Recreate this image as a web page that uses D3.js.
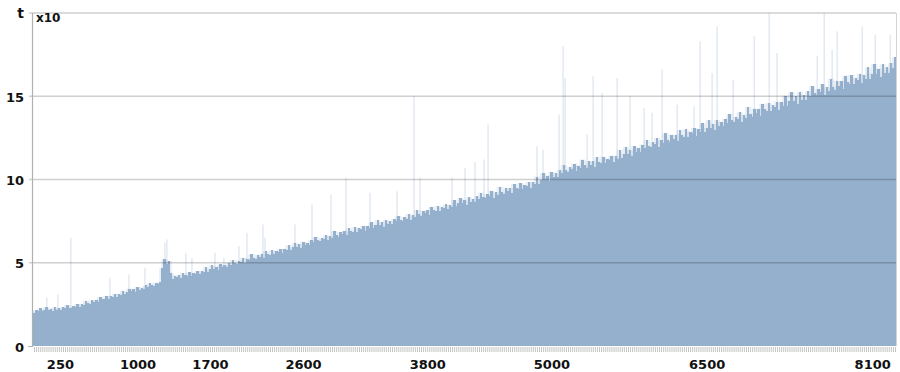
<!DOCTYPE html>
<html><head><meta charset="utf-8">
<script src="https://cdn.jsdelivr.net/npm/d3@7/dist/d3.min.js"></script>
<style>body{margin:0;background:#fff}svg{display:block}</style>
</head><body>
<svg id="chart" width="900" height="372"></svg>
<script>
// Categories: x positions of the bins (step 20)
const categories = d3.range(0, 8321, 20);
// Bin values (in units of x10)
const values = [
2.0,2.14,2.08,2.26,2.08,2.16,2.33,2.16,2.25,2.11,2.33,2.19,2.28,2.19,2.35,2.27,2.45,2.31,2.28,2.39,
2.34,2.53,2.32,2.51,2.45,2.73,2.58,2.53,2.74,2.66,2.78,2.64,2.94,2.83,2.80,3.02,2.84,3.00,2.97,3.13,
2.95,3.13,3.08,3.32,3.12,3.24,3.45,3.28,3.40,3.26,3.53,3.38,3.51,3.42,3.64,3.55,3.79,3.65,3.62,3.78,
3.7,3.85,4.7,5.2,4.95,5.1,4.4,4.03,4.23,4.13,4.24,4.08,4.38,4.25,4.21,4.42,4.23,4.37,4.34,4.48,
4.30,4.51,4.43,4.72,4.47,4.60,4.84,4.63,4.77,4.59,4.90,4.72,4.86,4.76,5.00,4.89,5.16,4.98,4.95,5.12,
5.07,5.30,5.01,5.25,5.16,5.51,5.30,5.21,5.48,5.36,5.51,5.30,5.69,5.52,5.48,5.75,5.50,5.69,5.64,5.83,
5.60,5.83,5.75,6.06,5.78,5.93,6.20,5.96,6.11,5.91,6.26,6.05,6.21,6.08,6.36,6.23,6.54,6.34,6.29,6.49,
6.42,6.67,6.35,6.61,6.50,6.90,6.66,6.56,6.86,6.72,6.88,6.64,7.08,6.89,6.83,7.13,6.85,7.07,7.01,7.22,
6.93,7.18,7.07,7.42,7.09,7.24,7.54,7.26,7.42,7.17,7.56,7.32,7.49,7.33,7.63,7.48,7.82,7.57,7.51,7.72,
7.65,7.93,7.57,7.85,7.74,8.17,7.90,7.79,8.12,7.96,8.14,7.87,8.36,8.14,8.08,8.41,8.09,8.33,8.26,8.50,
8.20,8.48,8.36,8.75,8.38,8.56,8.89,8.57,8.76,8.49,8.92,8.65,8.83,8.67,9.00,8.83,9.21,8.94,8.88,9.11,
9.02,9.32,8.91,9.23,9.09,9.56,9.26,9.13,9.50,9.31,9.50,9.20,9.73,9.49,9.41,9.77,9.42,9.67,9.60,9.85,
9.50,9.85,9.71,10.18,9.75,9.98,10.38,10.01,10.24,9.93,10.45,10.14,10.37,10.18,10.58,10.39,10.86,10.55,10.47,10.76,
10.63,10.96,10.51,10.84,10.69,11.20,10.86,10.71,11.10,10.89,11.10,10.77,11.34,11.07,10.98,11.37,10.98,11.25,11.15,11.42,
11.05,11.42,11.26,11.77,11.29,11.52,11.95,11.54,11.78,11.43,11.99,11.64,11.88,11.67,12.10,11.88,12.37,12.02,11.94,12.24,
12.11,12.50,11.97,12.36,12.19,12.78,12.40,12.23,12.68,12.44,12.69,12.31,12.97,12.66,12.56,13.01,12.56,12.88,12.77,13.09,
12.63,13.02,12.85,13.37,12.85,13.10,13.56,13.11,13.35,12.97,13.57,13.19,13.44,13.19,13.65,13.41,13.94,13.56,13.45,13.77,
13.63,14.04,13.48,13.90,13.71,14.35,13.94,13.76,14.25,13.99,14.25,13.83,14.55,14.21,14.10,14.59,14.11,14.45,14.34,14.68,
14.20,14.64,14.44,15.04,14.44,14.72,15.24,14.72,15.00,14.56,15.24,14.79,15.07,14.79,15.31,15.03,15.63,15.19,15.07,15.43,
15.26,15.72,15.08,15.55,15.33,16.05,15.58,15.37,15.92,15.62,15.91,15.43,16.24,15.85,15.72,16.27,15.72,16.10,15.97,16.35,
15.80,16.29,16.06,16.73,16.05,16.36,16.94,16.35,16.66,16.16,16.92,16.42,16.73,16.42,17.00,16.68,17.35
];
// Isolated tall thin bars: [category, value]
const spikes = [
[124,2.9],[231,3.1],[356,6.5],[733,4.1],[917,4.3],[1072,4.7],[1265,6.2],[1284,6.4],[1468,5.6],[1526,5.3],
[1748,5.6],[1835,5.3],[1980,6.0],[2058,6.8],[2212,7.3],[2232,6.5],[2522,7.3],[2686,8.5],[2870,9.1],[3015,10.1],
[3247,9.2],[3508,9.3],[3672,15.0],[3730,10.1],[4040,10.1],[4165,10.7],[4262,11.05],[4349,11.2],[4388,13.3],
[4861,12.0],[4919,11.8],[5074,13.9],[5113,18.0],[5132,16.1],[5345,12.7],[5403,16.2],[5490,15.2],[5635,16.1],
[5760,15.0],[5896,14.3],[5973,14.0],[6070,16.6],[6215,14.5],[6379,14.4],[6437,18.3],[6553,16.4],[6601,19.2],
[6756,16.0],[6960,18.6],[7104,20.0],[7180,17.6],[7568,17.4],[7636,20.0],[7713,17.8],[7761,18.9],[8003,19.2],
[8129,18.7],[8274,18.7]
];
const xTickLabels = [250,1000,1700,2600,3800,5000,6500,8100];
const yTicks = [0,5,10,15];
const yMax = 20;

const svg = d3.select("#chart");
const L = 33, R = 896, T = 13, B = 346;
const step = 20;
const x = d3.scaleLinear().domain([-10, 8330]).range([L, R]);
const y = d3.scaleLinear().domain([0, yMax]).range([B, T]);
const font = "'DejaVu Sans', Verdana, sans-serif";

svg.append("clipPath").attr("id","clip").append("rect")
  .attr("x", L).attr("y", 0).attr("width", R - L).attr("height", B);

const g = svg.append("g").attr("clip-path","url(#clip)");

// spikes (faint)
g.append("g").selectAll("rect").data(spikes).join("rect")
  .attr("x", d => x(d[0]) - 0.6)
  .attr("width", 1.2)
  .attr("y", d => y(d[1]))
  .attr("height", d => B - y(d[1]))
  .attr("fill", "#7397be").attr("fill-opacity", 0.26);

// soft halo layer (same bars, wider and translucent) for the fuzzy top edge
g.append("g").selectAll("rect").data(values).join("rect")
  .attr("x", (d,i) => x(categories[i] - 1.5 * step))
  .attr("width", (d,i) => x(categories[i] + 1.5 * step) - x(categories[i] - 1.5 * step))
  .attr("y", d => y(d))
  .attr("height", d => B - y(d))
  .attr("fill", "#94b0cc").attr("fill-opacity", 0.22);

// bars
g.append("g").attr("shape-rendering", "crispEdges")
  .selectAll("rect").data(values).join("rect")
  .attr("x", (d,i) => x(categories[i] - step / 2))
  .attr("width", (d,i) => x(categories[i] + step / 2) - x(categories[i] - step / 2) + 0.4)
  .attr("y", d => y(d))
  .attr("height", d => B - y(d))
  .attr("fill", "#94b0cc");

// grid lines
svg.append("g").selectAll("line").data(yTicks.filter(t => t > 0).concat([yMax])).join("line")
  .attr("x1", L - 4).attr("x2", R)
  .attr("y1", d => y(d)).attr("y2", d => y(d))
  .attr("stroke", "#000").attr("stroke-opacity", 0.19).attr("stroke-width", 1.6);

// frame
svg.append("line").attr("x1", L - 0.5).attr("x2", L - 0.5).attr("y1", T).attr("y2", B)
  .attr("stroke", "#b0b0b0").attr("stroke-width", 1.2);
svg.append("line").attr("x1", R + 0.5).attr("x2", R + 0.5).attr("y1", T).attr("y2", B)
  .attr("stroke", "#d4d4d4").attr("stroke-width", 1);
svg.append("line").attr("x1", L - 5).attr("x2", L).attr("y1", B + 0.5).attr("y2", B + 0.5)
  .attr("stroke", "#b0b0b0").attr("stroke-width", 1);

// dense category ticks under the axis
const xMinor = d3.axisBottom(x).tickValues(categories).tickSize(5).tickFormat("");
const gm = svg.append("g").attr("transform", `translate(0,${B + 1})`).call(xMinor);
gm.select(".domain").remove();
gm.selectAll(".tick line").attr("stroke", "#c4c4c4").attr("stroke-width", 1);

// labelled x axis
const xAxis = d3.axisBottom(x).tickValues(xTickLabels).tickSize(0).tickFormat(d3.format("d"));
const gx = svg.append("g").attr("transform", `translate(0,${B})`).call(xAxis);
gx.select(".domain").remove();
gx.selectAll("text").attr("font-family", font).attr("font-weight", "bold")
  .attr("font-size", 13).attr("fill", "#111").attr("dy", 0).attr("y", 23);

// y labels
svg.append("g").selectAll("text").data(yTicks).join("text")
  .attr("x", 24).attr("y", d => y(d) + 5.5)
  .attr("text-anchor", "end")
  .attr("font-family", font).attr("font-weight", "bold").attr("font-size", 13)
  .attr("fill", "#111").text(d => d);

svg.append("text").attr("x", 24).attr("y", 18).attr("text-anchor", "end")
  .attr("font-family", font).attr("font-weight", "bold").attr("font-size", 14)
  .attr("fill", "#111").text("t");
svg.append("text").attr("x", 36).attr("y", 22)
  .attr("font-family", font).attr("font-weight", "bold").attr("font-size", 12)
  .attr("fill", "#111").text("x10");
</script>
</body></html>
